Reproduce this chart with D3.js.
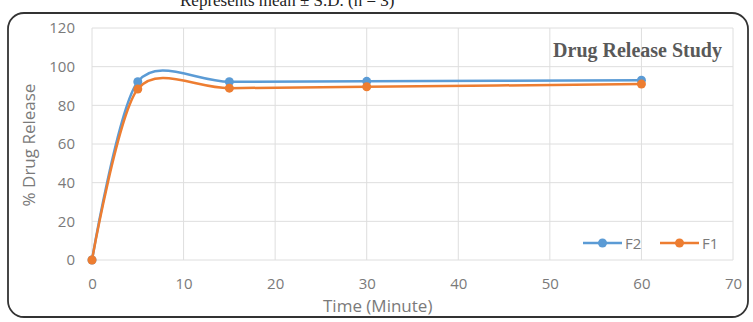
<!DOCTYPE html>
<html>
<head>
<meta charset="utf-8">
<script src="https://cdn.jsdelivr.net/npm/d3@7"></script>
<style>
  body { margin: 0; background: #fff; }
  .tick text { font-family: "Open Sans", "Noto Sans", sans-serif; font-size: 15px; fill: #7a7a7a; }
</style>
</head>
<body>
<div id="chart"></div>
<script>
// chart data
var times = [0, 5, 15, 30, 60];
var f2 = [0, 92.2, 92.2, 92.4, 93];
var f1 = [0, 88.4, 88.9, 89.6, 91];
var seriesNames = ["F2", "F1"];
var xTicks = [0, 10, 20, 30, 40, 50, 60, 70];
var yTicks = [0, 20, 40, 60, 80, 100, 120];

var svgWidth = 753;
var svgHeight = 322;

var margin = { top: 28, right: 20, bottom: 62, left: 92 };
var width = 733 - margin.left;
var height = 260 - margin.top;

var svg = d3.select("#chart")
  .append("svg")
  .attr("width", svgWidth)
  .attr("height", svgHeight);

// caption of the page above, partly cut by the window as in the source
svg.append("text")
  .attr("x", 180)
  .attr("y", 6)
  .style("font-family", "Liberation Serif, serif")
  .style("font-size", "17px")
  .attr("fill", "#222")
  .text("Represents mean \u00b1 S.D. (n = 3)");

// frame
svg.append("rect")
  .attr("x", 8)
  .attr("y", 13)
  .attr("width", 740)
  .attr("height", 304)
  .attr("rx", 16)
  .attr("fill", "#fff")
  .attr("stroke", "#333")
  .attr("stroke-width", 1.8);

var chartGroup = svg.append("g")
  .attr("transform", `translate(${margin.left}, ${margin.top})`);

var x = d3.scaleLinear().domain([0, 70]).range([0, width]);
var y = d3.scaleLinear().domain([0, 120]).range([height, 0]);

// gridlines
chartGroup.append("g")
  .selectAll("line")
  .data(yTicks)
  .enter()
  .append("line")
  .attr("x1", 0)
  .attr("x2", width)
  .attr("y1", d => y(d))
  .attr("y2", d => y(d))
  .attr("stroke", "#dedede");

chartGroup.append("g")
  .selectAll("line")
  .data(xTicks)
  .enter()
  .append("line")
  .attr("x1", d => x(d))
  .attr("x2", d => x(d))
  .attr("y1", 0)
  .attr("y2", height)
  .attr("stroke", "#dedede");

// axes (labels only)
var xAxis = chartGroup.append("g")
  .attr("transform", `translate(0, ${height})`)
  .call(d3.axisBottom(x).tickValues(xTicks).tickSize(0).tickPadding(18));
xAxis.select(".domain").remove();

var yAxis = chartGroup.append("g")
  .call(d3.axisLeft(y).tickValues(yTicks).tickSize(0).tickPadding(17));
yAxis.select(".domain").remove();

// axis titles
chartGroup.append("text")
  .attr("transform", "rotate(-90)")
  .attr("x", 0 - (145 - margin.top))
  .attr("y", 0 - margin.left + 35)
  .style("text-anchor", "middle")
  .style("font-family", "Open Sans, Noto Sans, sans-serif")
  .style("font-size", "17px")
  .attr("fill", "#7a7a7a")
  .text("% Drug Release");

chartGroup.append("text")
  .attr("x", x(31.2))
  .attr("y", 312 - margin.top)
  .style("text-anchor", "middle")
  .style("font-family", "Open Sans, Noto Sans, sans-serif")
  .style("font-size", "17px")
  .attr("fill", "#7a7a7a")
  .text("Time (Minute)");

// title
chartGroup.append("text")
  .attr("x", 722 - margin.left)
  .attr("y", 57 - margin.top)
  .style("text-anchor", "end")
  .style("font-family", "Liberation Serif, serif")
  .style("font-weight", "bold")
  .style("font-size", "20px")
  .attr("fill", "#595959")
  .text("Drug Release Study");

var series = [
  { name: "F2", values: f2, color: "#5b9bd5" },
  { name: "F1", values: f1, color: "#ed7d31" }
];

var line = d3.line()
  .x((d, i) => x(times[i]))
  .y(d => y(d))
  .curve(d3.curveCardinal.tension(0.15));

series.forEach(function(s) {
  chartGroup.append("path")
    .datum(s.values)
    .attr("fill", "none")
    .attr("stroke", s.color)
    .attr("stroke-width", 2.5)
    .attr("d", line);

  chartGroup.selectAll(null)
    .data(s.values)
    .enter()
    .append("circle")
    .attr("cx", (d, i) => x(times[i]))
    .attr("cy", d => y(d))
    .attr("r", 4.5)
    .attr("fill", s.color);
});

// legend
var legend = svg.append("g")
  .attr("transform", "translate(583, 243)");

var legendX = [0, 77];
series.forEach(function(s, i) {
  var g = legend.append("g").attr("transform", `translate(${legendX[i]}, 0)`);
  g.append("line")
    .attr("x1", 0).attr("x2", 39)
    .attr("y1", 0).attr("y2", 0)
    .attr("stroke", s.color)
    .attr("stroke-width", 2.5);
  g.append("circle")
    .attr("cx", 19.5).attr("cy", 0).attr("r", 4.5)
    .attr("fill", s.color);
  g.append("text")
    .attr("x", 42).attr("y", 5.5)
    .style("font-family", "Open Sans, Noto Sans, sans-serif")
    .style("font-size", "15px")
    .attr("fill", "#7a7a7a")
    .text(s.name);
});
</script>
</body>
</html>
